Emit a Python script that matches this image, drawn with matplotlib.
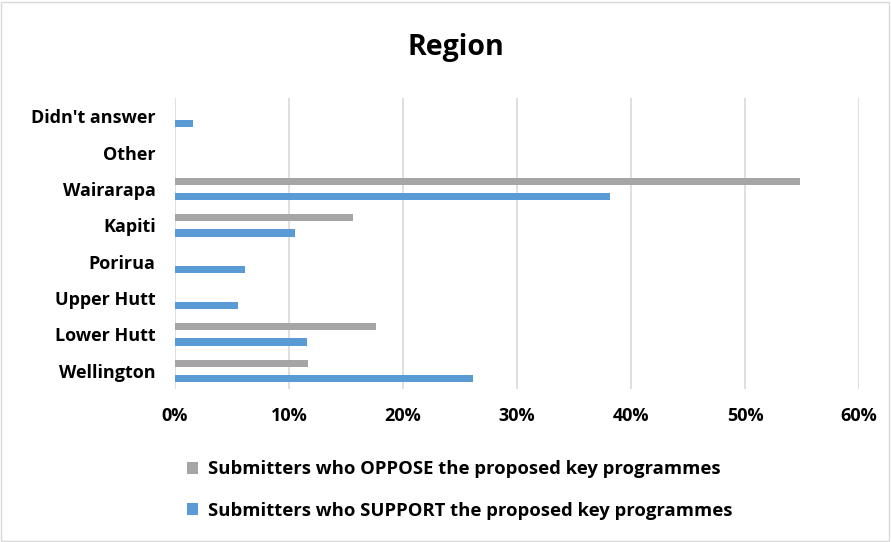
import matplotlib.pyplot as plt
import numpy as np
from matplotlib.patches import Rectangle

plt.rcParams['font.family'] = ['Open Sans', 'DejaVu Sans']
plt.rcParams['font.weight'] = 'bold'

regions = ['Wellington', 'Lower Hutt', 'Upper Hutt', 'Porirua',
           'Kapiti', 'Wairarapa', 'Other', "Didn't answer"]
oppose = [11.7, 17.6, 0, 0, 15.6, 54.8, 0, 0]
support = [26.1, 11.6, 5.5, 6.1, 10.5, 38.2, 0, 1.6]

grey = '#a5a5a5'
blue = '#5b9bd5'

fig = plt.figure(figsize=(8.91, 5.42), dpi=100)
ax = fig.add_axes([175 / 891, 1 - 389 / 542, 684 / 891, 291 / 542])

y = np.arange(len(regions))
h = 0.2
ax.barh(y + 0.21, oppose, height=h, color=grey,
        label='Submitters who OPPOSE the proposed key programmes')
ax.barh(y - 0.21, support, height=h, color=blue,
        label='Submitters who SUPPORT the proposed key programmes')

ax.set_xlim(0, 60)
ax.set_ylim(-0.5, len(regions) - 0.5)
ax.set_xticks(range(0, 61, 10))
ax.set_xticklabels([f'{v}%' for v in range(0, 61, 10)])
ax.set_yticks(y)
ax.set_yticklabels(regions)
ax.tick_params(length=0, labelsize=13, colors='black')
ax.tick_params(axis='x', pad=13)
ax.tick_params(axis='y', pad=14)
for s in ax.spines.values():
    s.set_visible(False)
ax.grid(axis='x', color='#d9d9d9', linewidth=1.2)
ax.set_axisbelow(True)

fig.text(456 / 891, 1 - 47 / 542, 'Region', ha='center', va='center',
         fontsize=20.5, fontweight='bold')

handles, labels = ax.get_legend_handles_labels()
fig.legend(handles, labels, loc='center left',
           bbox_to_anchor=(170 / 891, 1 - 490 / 542), frameon=False,
           fontsize=13.3, handlelength=0.6, handleheight=0.6,
           handletextpad=0.55, labelspacing=1.25)

fig.patches.append(Rectangle((0.001, 0.002), 0.997, 0.995, transform=fig.transFigure,
                             fill=False, edgecolor='#d9d9d9', linewidth=1))

fig.savefig('out.png', dpi=100)
